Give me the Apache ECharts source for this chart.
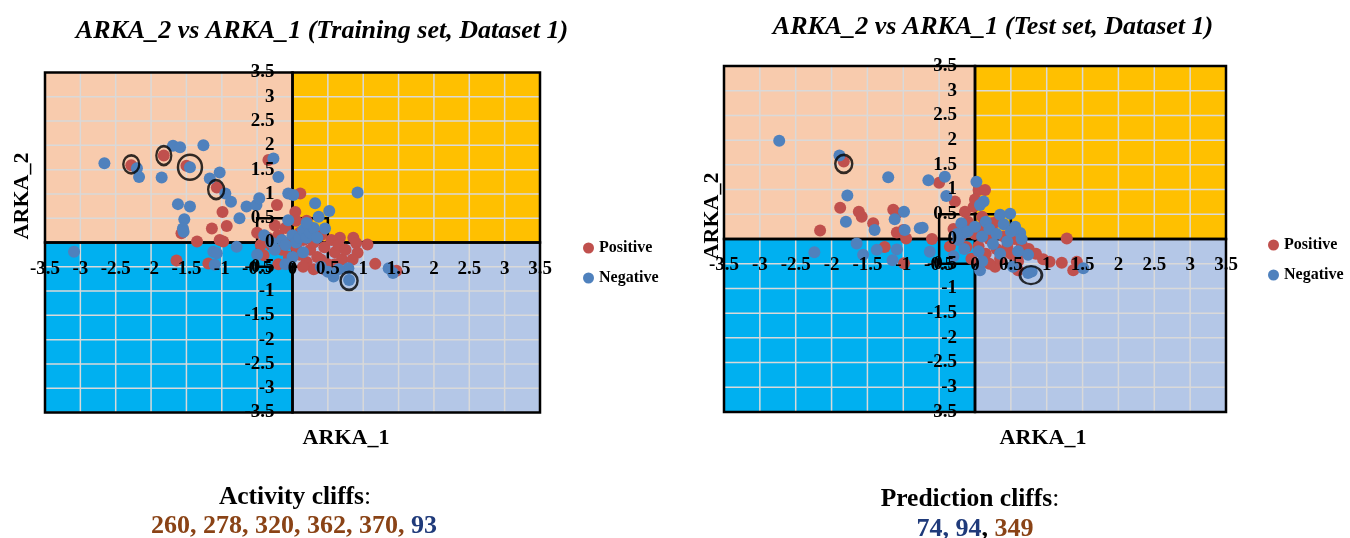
<!DOCTYPE html>
<html><head><meta charset="utf-8">
<script src="https://cdn.jsdelivr.net/npm/echarts@6/dist/echarts.min.js"></script>
<style>html,body{margin:0;padding:0;background:#fff}#c{width:1350px;height:538px}</style>
</head><body><div id="c"></div>
<script>
// ---------- data ----------
const tickValues = [-3.5,-3,-2.5,-2,-1.5,-1,-0.5,0,0.5,1,1.5,2,2.5,3,3.5];
const quadrants = [[-3.5,0,0,3.5],[0,0,3.5,3.5],[-3.5,-3.5,0,0],[0,-3.5,3.5,0]];
const focusBox = [-0.5,-0.5,0.5,0.5];
const seriesNames = ['Positive','Negative'];

const trainPositive = [
 [-2.28,1.59],[-1.82,1.79],[-1.50,1.58],[-1.07,1.13],[-0.99,0.63],[-1.14,0.29],[-0.93,0.34],
 [-1.57,0.19],[-1.35,0.02],[-1.03,0.05],[-0.98,0.02],[-1.64,-0.37],[-1.19,-0.43],[-0.41,-0.26],
 [-0.22,0.77],[-0.34,1.70],[0.11,1.01],[0.04,0.63],[0.67,0.10],[0.86,0.10],[0.90,-0.01],
 [1.06,-0.04],[0.92,-0.21],[1.17,-0.44],[1.47,-0.58],
 [-0.35,0.1],[-0.3,-0.05],[-0.2,0.15],[-0.15,-0.15],[-0.1,0.3],[-0.05,-0.3],[0.0,0.05],
 [0.05,-0.1],[0.1,0.2],[0.1,-0.25],[0.15,0.05],[0.2,-0.4],[0.25,0.3],[0.25,-0.15],[0.3,0.0],
 [0.35,-0.3],[0.4,0.15],[0.45,-0.1],[0.5,-0.45],[0.55,0.05],[0.6,-0.2],[0.65,-0.05],[0.7,-0.35],
 [0.75,-0.15],[0.45,-0.55],[0.3,-0.55],[0.15,-0.5],[-0.2,-0.45],[-0.45,-0.05],[-0.5,0.2],
 [-0.25,0.35],[0.05,0.45],[0.2,0.45],[0.85,-0.35],[0.6,-0.45],[0.4,-0.35]
];
const trainNegative = [
 [-2.66,1.63],[-2.20,1.53],[-2.17,1.35],[-1.69,1.99],[-1.59,1.96],[-1.26,2.00],[-1.45,1.55],
 [-1.85,1.34],[-1.17,1.32],[-1.03,1.44],[-0.95,1.01],[-0.87,0.84],[-1.62,0.79],[-1.45,0.74],
 [-1.53,0.48],[-1.55,0.29],[-0.75,0.50],[-0.65,0.74],[-0.51,0.77],[-0.47,0.91],[-0.27,1.73],
 [-0.20,1.35],[-0.06,1.01],[0.01,0.98],[-0.06,0.46],[0.32,0.81],[0.92,1.03],[0.52,0.65],
 [0.37,0.53],[0.46,0.29],[-3.09,-0.19],[-1.12,-0.19],[-1.07,-0.22],[-1.10,-0.46],[-0.79,-0.09],
 [-1.54,0.22],[1.36,-0.53],[1.42,-0.63],[0.80,-0.77],[0.58,-0.70],[0.79,-0.53],
 [-0.3,0.0],[-0.25,-0.15],[-0.15,0.05],[-0.1,-0.05],[0.0,0.15],[0.05,0.0],[0.1,0.1],[0.15,0.25],
 [0.2,0.1],[0.25,0.2],[0.3,0.3],[0.35,0.1],[0.0,-0.3],[-0.1,-0.45],[0.15,-0.2],[0.5,-0.6],
 [0.4,-0.5],[-0.5,-0.25],[-0.4,0.15],[0.2,0.4],[0.65,-0.55]
];
const testPositive = [
 [-1.83,1.57],[-0.50,1.14],[-0.28,0.76],[-1.88,0.63],[-1.62,0.55],[-1.58,0.45],[-2.16,0.17],
 [-1.42,0.32],[-1.14,0.59],[-1.09,0.52],[-1.09,0.13],[-0.96,0.01],[-0.60,0.0],[-0.14,0.55],
 [0.05,0.99],[0.14,0.99],[-0.02,0.65],[0.23,0.32],[1.28,0.01],[1.21,-0.48],[1.37,-0.63],
 [1.42,-0.46],[0.95,-0.41],[1.04,-0.46],[0.68,-0.27],[0.60,-0.63],[0.28,-0.56],[-1.26,-0.16],
 [-0.99,-0.49],[-1.0,0.18],[-0.12,-0.16],
 [-0.3,0.2],[-0.2,0.05],[-0.1,0.35],[0.0,0.1],[0.05,-0.15],[0.1,0.25],[0.15,-0.3],[0.2,0.0],
 [0.25,0.15],[0.3,-0.2],[0.35,-0.4],[0.4,0.05],[0.45,-0.15],[0.5,-0.3],[0.55,0.0],[0.6,-0.45],
 [0.65,-0.1],[0.75,-0.2],[0.85,-0.3],[-0.05,-0.4],[0.2,-0.5],[-0.35,-0.15],[0.1,0.45],[0.0,0.8],
 [0.3,0.35]
];
const testNegative = [
 [-2.73,1.99],[-1.89,1.69],[-1.21,1.25],[-0.65,1.19],[-0.42,1.26],[-0.40,0.87],[-1.78,0.88],
 [-1.80,0.35],[-1.40,0.18],[-0.99,0.55],[-1.12,0.40],[-0.98,0.18],[-0.73,0.23],[-0.19,0.32],
 [0.02,1.16],[-0.23,-0.02],[-1.65,-0.09],[-2.24,-0.27],[-1.56,-0.32],[-1.37,-0.22],[-1.09,-0.21],
 [-1.15,-0.43],[-0.63,-0.26],[-0.77,0.22],[-0.16,0.12],[0.12,0.76],[0.07,0.69],[0.35,0.49],
 [0.49,0.51],[0.56,0.25],[0.63,0.12],[1.51,-0.59],[0.79,-0.66],[0.74,-0.69],[0.74,-0.32],
 [0.53,-0.56],[0.07,-0.63],
 [-0.25,0.1],[-0.1,0.15],[0.0,0.25],[0.1,0.05],[0.15,0.35],[0.2,0.2],[0.25,-0.1],[0.3,0.1],
 [0.4,0.3],[0.45,-0.05],[0.05,-0.25],[-0.15,-0.2],[0.35,-0.3],[0.6,-0.25],[0.1,-0.45],
 [-0.3,-0.35],[0.5,0.15],[0.65,0.0]
];
const trainCliffs = [[-2.28,1.61],[-1.82,1.79],[-1.45,1.55],[-1.08,1.09],[0.80,-0.79]];
const testCliffs = [[-1.83,1.52],[0.78,-0.73]];

const chartTitles = ['ARKA_2 vs ARKA_1 (Training set, Dataset 1)','ARKA_2 vs ARKA_1 (Test set, Dataset 1)'];
const axisNames = ['ARKA_1','ARKA_2'];
const cliffHeadings = ['Activity cliffs','Prediction cliffs'];
const trainCliffIds = { brown: '260, 278, 320, 362, 370, ', blue: '93' };
const testCliffIds = { blue: '74, 94', brown: '349' };

// ---------- styles ----------
const QUAD_COLORS = ['#F8CBAD','#FFC000','#00B0F0','#B4C7E7'];
const RED = '#C0504D', BLUE = '#4F81BD';
const BROWN = '#8A4316', NAVY = '#1F3A7A';
const SERIF = '"Liberation Serif","Times New Roman",serif';
const trainRingSizes = [[16,18],[15,19],[24,25],[16,19],[17,18]];
const testRingSizes = [[17,18],[22,18]];

function bgRender(params, api) {
  const c = (x,y) => api.coord([x,y]);
  const ch = [];
  quadrants.forEach((q,i) => {
    const p0 = c(q[0],q[3]), p1 = c(q[2],q[1]);
    ch.push({type:'rect', shape:{x:p0[0],y:p0[1],width:p1[0]-p0[0],height:p1[1]-p0[1]}, style:{fill:QUAD_COLORS[i]}});
  });
  tickValues.forEach(t => {
    const a = c(t,-3.5), b = c(t,3.5);
    ch.push({type:'line', shape:{x1:a[0],y1:a[1],x2:b[0],y2:b[1]}, style:{stroke:'#D9D9D9',lineWidth:1.5}});
    const d = c(-3.5,t), e = c(3.5,t);
    ch.push({type:'line', shape:{x1:d[0],y1:d[1],x2:e[0],y2:e[1]}, style:{stroke:'#D9D9D9',lineWidth:1.5}});
  });
  quadrants.forEach(q => {
    const p0 = c(q[0],q[3]), p1 = c(q[2],q[1]);
    ch.push({type:'rect', shape:{x:p0[0],y:p0[1],width:p1[0]-p0[0],height:p1[1]-p0[1]}, style:{fill:'none',stroke:'#000',lineWidth:2.5}});
  });
  const b0 = c(focusBox[0],focusBox[3]), b1 = c(focusBox[2],focusBox[1]);
  ch.push({type:'rect', shape:{x:b0[0],y:b0[1],width:b1[0]-b0[0],height:b1[1]-b0[1]}, style:{fill:'none',stroke:'#000',lineWidth:2.5}});
  return {type:'group', children: ch};
}

const grids = [
  {left:45, top:72.5, width:495, height:340},
  {left:724, top:66, width:502, height:346}
];
const axisLabelX = {fontFamily:SERIF, fontWeight:'bold', fontSize:19, color:'#000', margin:17, showMinLabel:true, showMaxLabel:true};
const axisLabelY = {fontFamily:SERIF, fontWeight:'bold', fontSize:19, color:'#000', margin:18, showMinLabel:true, showMaxLabel:true};
// axes sit on the zero lines (the middle of each symmetric -3.5..3.5 grid)
function mkX(i){return {gridIndex:i,type:'value',min:-3.5,max:3.5,interval:0.5,z:6,position:'bottom',
  offset:-grids[i].height/2,
  axisLine:{show:false,onZero:false},axisTick:{show:false},splitLine:{show:false},axisLabel:axisLabelX};}
function mkY(i){return {gridIndex:i,type:'value',min:-3.5,max:3.5,interval:0.5,z:6,position:'left',
  offset:-grids[i].width/2,
  axisLine:{show:false,onZero:false},axisTick:{show:false},splitLine:{show:false},axisLabel:axisLabelY};}

function scatter(name, data, color, i){
  return {type:'scatter', name, data, xAxisIndex:i, yAxisIndex:i, symbolSize:12, z:3,
    itemStyle:{color, opacity:1}, emphasis:{disabled:true}};
}
function rings(data, sizes, i){
  return {type:'scatter', name:'cliffs'+i, data, xAxisIndex:i, yAxisIndex:i, z:4,
    symbolSize:(v,p)=>sizes[p.dataIndex],
    itemStyle:{color:'rgba(0,0,0,0)', borderColor:'#000', borderWidth:2.5}, emphasis:{disabled:true}};
}

const legendBase = {orient:'vertical', icon:'circle', itemWidth:11, itemHeight:11, itemGap:14,
  data:seriesNames, selectedMode:false, textStyle:{fontFamily:SERIF, fontWeight:'bold', fontSize:16, color:'#000'}};

function txt(x,y,text,font,extra){
  return Object.assign({type:'text', x, y, z:10, style:{text, font, fill:'#000', textAlign:'center', textVerticalAlign:'middle'}}, extra||{});
}

const option = {
  animation:false,
  backgroundColor:'#fff',
  grid: grids.map(g=>Object.assign({outerBoundsMode:'none', containLabel:false}, g)),
  xAxis:[mkX(0),mkX(1)],
  yAxis:[mkY(0),mkY(1)],
  legend:[
    Object.assign({left:578, top:235}, legendBase),
    Object.assign({left:1263, top:232}, legendBase)
  ],
  series:[
    {type:'custom', name:'bg0', xAxisIndex:0, yAxisIndex:0, z:1, data:[[0,0]], renderItem:bgRender, silent:true},
    {type:'custom', name:'bg1', xAxisIndex:1, yAxisIndex:1, z:1, data:[[0,0]], renderItem:bgRender, silent:true},
    scatter(seriesNames[0], trainPositive, RED, 0),
    scatter(seriesNames[1], trainNegative, BLUE, 0),
    scatter(seriesNames[0], testPositive, RED, 1),
    scatter(seriesNames[1], testNegative, BLUE, 1),
    rings(trainCliffs, trainRingSizes, 0),
    rings(testCliffs, testRingSizes, 1)
  ],
  graphic:[
    txt(322,31,chartTitles[0],'italic bold 26px '+SERIF),
    txt(993,27,chartTitles[1],'italic bold 26px '+SERIF),
    txt(346,438,axisNames[0],'bold 22px '+SERIF),
    txt(1043,438,axisNames[0],'bold 22px '+SERIF),
    txt(22,196,axisNames[1],'bold 22px '+SERIF,{rotation:Math.PI/2}),
    txt(712,216,axisNames[1],'bold 22px '+SERIF,{rotation:Math.PI/2}),
    {type:'text', x:295, y:497, z:10, style:{text:'{h|'+cliffHeadings[0]+'}{c|:}', textAlign:'center', textVerticalAlign:'middle',
      rich:{h:{font:'bold 25.5px '+SERIF, fill:'#000'}, c:{font:'25.5px '+SERIF, fill:'#000'}}}},
    {type:'text', x:294, y:526, z:10, style:{text:'{b|'+trainCliffIds.brown+'}{n|'+trainCliffIds.blue+'}', textAlign:'center', textVerticalAlign:'middle',
      rich:{b:{font:'bold 26px '+SERIF, fill:BROWN}, n:{font:'bold 26px '+SERIF, fill:NAVY}}}},
    {type:'text', x:970, y:499, z:10, style:{text:'{h|'+cliffHeadings[1]+'}{c|:}', textAlign:'center', textVerticalAlign:'middle',
      rich:{h:{font:'bold 25.5px '+SERIF, fill:'#000'}, c:{font:'25.5px '+SERIF, fill:'#000'}}}},
    {type:'text', x:975, y:529, z:10, style:{text:'{n|'+testCliffIds.blue+'}{c|, }{b|'+testCliffIds.brown+'}', textAlign:'center', textVerticalAlign:'middle',
      rich:{b:{font:'bold 26px '+SERIF, fill:BROWN}, n:{font:'bold 26px '+SERIF, fill:NAVY}, c:{font:'bold 26px '+SERIF, fill:'#000'}}}}
  ]
};
const chart = echarts.init(document.getElementById('c'), null, {renderer:'canvas'});
chart.setOption(option);
</script></body></html>
